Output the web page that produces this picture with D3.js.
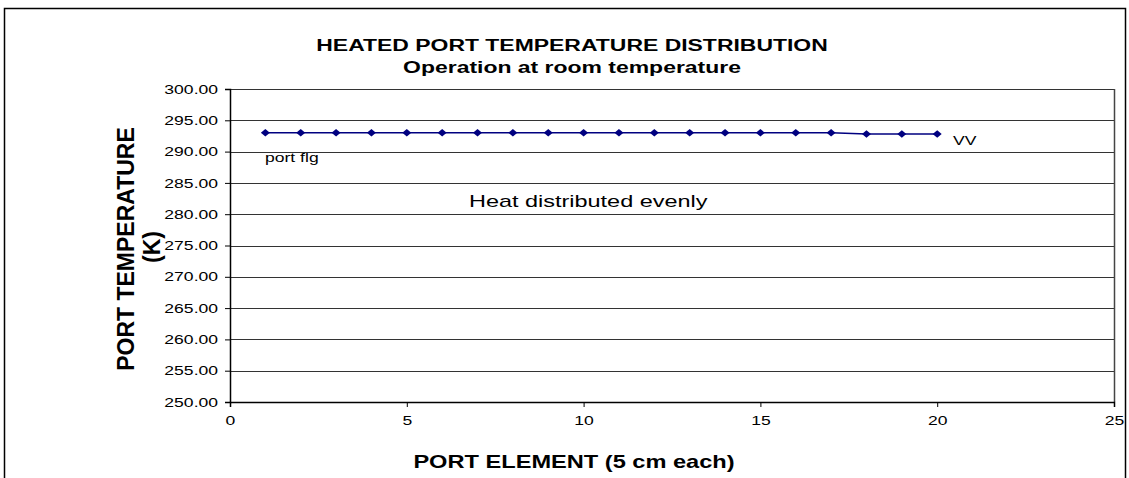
<!DOCTYPE html>
<html>
<head>
<meta charset="utf-8">
<script src="https://cdn.jsdelivr.net/npm/d3@7"></script>
<style>
  body { margin: 0; background: #fff; }
  text { font-family: "Liberation Sans", Arial, sans-serif; }
</style>
</head>
<body>
<script>
// chart data
var elements = [1, 2, 3, 4, 5, 6, 7, 8, 9, 10, 11, 12, 13, 14, 15, 16, 17, 18, 19, 20];
var temps = [293.0, 293.0, 293.0, 293.0, 293.0, 293.0, 293.0, 293.0, 293.0, 293.0,
             293.0, 293.0, 293.0, 293.0, 293.0, 293.0, 293.0, 292.8, 292.8, 292.8];
var yTicks = [250, 255, 260, 265, 270, 275, 280, 285, 290, 295, 300];
var xTicks = [0, 5, 10, 15, 20, 25];

var w = 1129, h = 478;
// the picture is stretched sideways, so text is widened too
var sx = 1.35;

var svg = d3.select("body").append("svg")
  .attr("width", w)
  .attr("height", h);

// outer chart border
svg.append("rect")
  .attr("x", 4.5).attr("y", 8.5)
  .attr("width", 1121).attr("height", 500)
  .attr("fill", "#fff")
  .attr("stroke", "#000")
  .attr("stroke-width", 1.5);

// scales
var x = d3.scaleLinear().domain([0, 25]).range([230, 1114]);
var y = d3.scaleLinear().domain([250, 300]).range([402, 89]);

// gridlines
svg.append("g")
  .selectAll("line")
  .data(yTicks.slice(1))
  .enter().append("line")
  .attr("x1", x(0)).attr("x2", x(25))
  .attr("y1", function(d){ return Math.round(y(d)) + 0.5; })
  .attr("y2", function(d){ return Math.round(y(d)) + 0.5; })
  .attr("stroke", "#333")
  .attr("stroke-width", 1);

// plot area right border
svg.append("line")
  .attr("x1", x(25) + 0.5).attr("x2", x(25) + 0.5)
  .attr("y1", y(300)).attr("y2", y(250))
  .attr("stroke", "#444")
  .attr("stroke-width", 1.5);

// y axis
var yAxis = d3.axisLeft(y)
  .tickValues(yTicks)
  .tickSize(5)
  .tickFormat(d3.format(".2f"));
var gy = svg.append("g")
  .attr("transform", "translate(" + x(0) + ",0)")
  .call(yAxis);
gy.select(".domain").attr("stroke", "#000").attr("stroke-width", 1.5);
gy.selectAll(".tick line").attr("stroke", "#000");
gy.selectAll(".tick text")
  .attr("x", -12 / sx)
  .attr("transform", "scale(" + sx + ",1)")
  .style("font-size", "13px")
  .attr("fill", "#000");

// x axis
var xAxis = d3.axisBottom(x)
  .tickValues(xTicks)
  .tickSize(5)
  .tickFormat(d3.format("d"));
var gx = svg.append("g")
  .attr("transform", "translate(0," + y(250) + ")")
  .call(xAxis);
gx.select(".domain").attr("stroke", "#000").attr("stroke-width", 1.5);
gx.selectAll(".tick line").attr("stroke", "#000");
gx.selectAll(".tick text")
  .attr("y", 14)
  .attr("transform", "scale(" + sx + ",1)")
  .style("font-size", "13px")
  .attr("fill", "#000");

// series line
var line = d3.line()
  .x(function(d, i){ return x(elements[i]); })
  .y(function(d){ return y(d); });

svg.append("path")
  .datum(temps)
  .attr("d", line)
  .attr("fill", "none")
  .attr("stroke", "#000080")
  .attr("stroke-width", 1.5);

// diamond markers
svg.selectAll(".marker")
  .data(temps)
  .enter().append("path")
  .attr("class", "marker")
  .attr("d", d3.symbol().type(d3.symbolDiamond2).size(36))
  .attr("transform", function(d, i){
    return "translate(" + x(elements[i]) + "," + y(d) + ") scale(1.2,1)";
  })
  .attr("fill", "#000080");

// helper for widened text
function addText(tx, ty, str, size, bold, anchor, scl){
  var s = scl || sx;
  return svg.append("text")
    .attr("transform", "translate(" + tx + "," + ty + ") scale(" + s + ",1)")
    .attr("text-anchor", anchor || "start")
    .style("font-size", size + "px")
    .style("font-weight", bold ? "bold" : "normal")
    .text(str);
}

// titles
addText(572, 51, "HEATED PORT TEMPERATURE DISTRIBUTION", 17, true, "middle");
addText(572, 73, "Operation at room temperature", 17, true, "middle");

// y axis title (rotated, so it is not widened along its baseline)
svg.append("text")
  .attr("transform", "translate(134,249) rotate(-90)")
  .attr("text-anchor", "middle")
  .style("font-size", "23px")
  .style("font-weight", "bold")
  .text("PORT TEMPERATURE");
svg.append("text")
  .attr("transform", "translate(160,247) rotate(-90)")
  .attr("text-anchor", "middle")
  .style("font-size", "23px")
  .style("font-weight", "bold")
  .text("(K)");

addText(574, 468, "PORT ELEMENT (5 cm each)", 17.5, true, "middle");

// annotations
addText(265, 162, "port flg", 13, false);
addText(953, 145, "VV", 13, false);
addText(469, 207, "Heat distributed evenly", 17, false, "start", 1.38);
</script>
</body>
</html>
